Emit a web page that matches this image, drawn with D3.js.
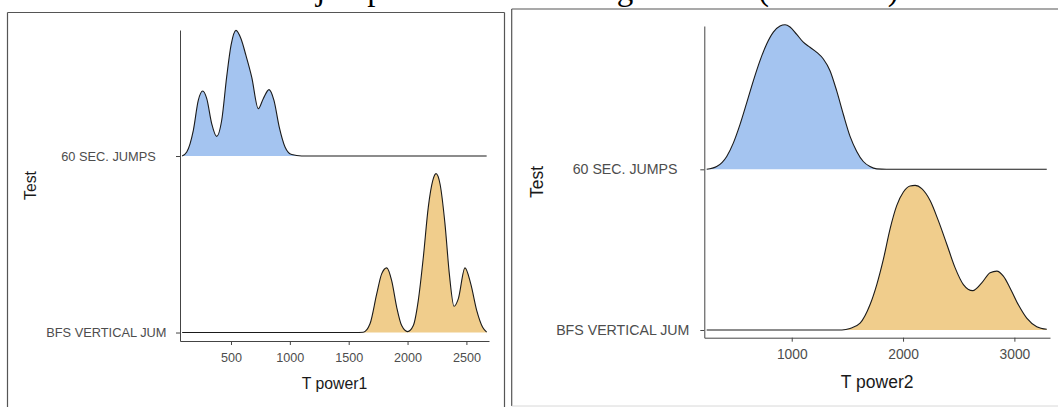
<!DOCTYPE html>
<html><head><meta charset="utf-8">
<script src="https://cdn.jsdelivr.net/npm/d3@7"></script>
<style>
html,body{margin:0;padding:0;background:#fff;}
svg{display:block;}
</style></head><body>
<svg id="chart" width="1058" height="407" font-family="'Liberation Sans', Arial, sans-serif"></svg>
<script>
// ---------------- data ----------------
const categories = ["60 SEC. JUMPS", "BFS VERTICAL JUM"];
const ticksPower1 = [500, 1000, 1500, 2000, 2500];
const ticksPower2 = [1000, 2000, 3000];
const axisTitles = ["T power1", "T power2"];
const yTitle = "Test";
const titleText = "Power of jumps in the two testing sessions (T1 vs T2)";
// [T power, relative density] (tallest ridge of each panel = 1)
const power1Jumps60 = [[85,0],[124,0.025],[180,0.162],[222,0.350],[260,0.409],[294,0.361],[336,0.204],[378,0.124],[421,0.225],[463,0.497],[500,0.696],[542,0.791],[585,0.738],[627,0.633],[676,0.497],[732,0.298],[774,0.361],[823,0.418],[865,0.350],[910,0.182],[959,0.057],[1016,0.009],[1100,0],[2672,0]];
const power1BFS = [[85,0],[1550,0],[1624,0.002],[1681,0.055],[1738,0.243],[1780,0.369],[1823,0.407],[1865,0.327],[1908,0.159],[1950,0.044],[2001,0.006],[2049,0.044],[2091,0.201],[2134,0.474],[2176,0.788],[2214,0.956],[2242,1.0],[2276,0.935],[2318,0.684],[2355,0.369],[2395,0.165],[2431,0.212],[2488,0.407],[2537,0.306],[2588,0.138],[2638,0.033],[2672,0.002]];
const power2Jumps60 = [[236,0],[326,0.019],[416,0.089],[475,0.181],[535,0.309],[596,0.461],[655,0.612],[715,0.752],[775,0.867],[835,0.949],[895,0.991],[940,1.0],[985,0.984],[1045,0.933],[1104,0.879],[1164,0.844],[1225,0.809],[1284,0.763],[1344,0.682],[1404,0.542],[1464,0.379],[1524,0.228],[1584,0.124],[1643,0.054],[1703,0.019],[1764,0.003],[1850,0],[3291,0]];
const power2BFS = [[236,0],[1451,0],[1524,0.01],[1614,0.047],[1703,0.174],[1764,0.314],[1823,0.488],[1883,0.698],[1943,0.860],[2003,0.954],[2063,0.996],[2108,1.0],[2168,0.977],[2243,0.895],[2317,0.756],[2393,0.593],[2467,0.431],[2542,0.314],[2626,0.272],[2707,0.326],[2782,0.396],[2842,0.407],[2901,0.372],[2961,0.291],[3036,0.174],[3111,0.082],[3201,0.023],[3291,0.005]];
const fillColors = ["#A4C4F0", "#F0CD8C"];

// ---------------- layout ----------------
const svg = d3.select("#chart");
const ridgeScale = 0.9;

const panels = [
  { frame:{x0:7.5,y0:12.5,x1:504.5,y1:430}, plot:{l:180,r:489,t:30,b:341},
    xDomain:[66.7,2692], yDomain:[0.952,2.714], ticks:ticksPower1,
    series:[power1Jumps60, power1BFS], xTitle:axisTitles[0],
    fs:{tick:12.6, ylab:12.8, title:15.8}, xPad:8.5, yPad:6,
    xTitleY:389, yTitleX:35.5, bottomLine:false },
  { frame:{x0:511.7,y0:9,x1:1070,y1:406}, plot:{l:704.3,r:1050,t:26,b:337.7},
    xDomain:[214.7,3320], yDomain:[0.952,2.892], ticks:ticksPower2,
    series:[power2Jumps60, power2BFS], xTitle:axisTitles[1],
    fs:{tick:13.8, ylab:14.2, title:17.5}, xPad:8, yPad:7,
    xTitleY:388, yTitleX:543, bottomLine:true }
];

// title (cut off at the top in the reference: only descenders show)
const title = svg.append("text")
  .style("font-family","'Liberation Serif','Times New Roman',serif")
  .attr("font-size",32).attr("x",0).attr("y",-0.4).attr("fill","#000")
  .text(titleText);
{
  const n = title.node();
  const jI = titleText.indexOf("j"), cI = titleText.indexOf(")");
  const span = n.getStartPositionOfChar(cI).x - n.getStartPositionOfChar(jI).x;
  title.attr("font-size", 32 * 572 / span);
  const jx = n.getStartPositionOfChar(jI).x;
  title.attr("x", 316 - jx);
}

panels.forEach(p => {
  const g = svg.append("g");
  const f = p.frame;
  g.append("line").attr("x1",f.x0).attr("x2",f.x0).attr("y1",f.y0).attr("y2",f.y1).attr("stroke","#555").attr("stroke-width",1.2);
  g.append("line").attr("x1",f.x0).attr("x2",f.x1).attr("y1",f.y0).attr("y2",f.y0).attr("stroke","#555").attr("stroke-width",1.2);
  if (f.x1 < 1058) g.append("line").attr("x1",f.x1).attr("x2",f.x1).attr("y1",f.y0).attr("y2",f.y1).attr("stroke","#555").attr("stroke-width",1.2);
  if (p.bottomLine) g.append("line").attr("x1",f.x0).attr("x2",f.x1).attr("y1",f.y1).attr("y2",f.y1).attr("stroke","#d8d8d8").attr("stroke-width",1);

  const x = d3.scaleLinear().domain(p.xDomain).range([p.plot.l, p.plot.r]);
  const y = d3.scaleLinear().domain(p.yDomain).range([p.plot.b, p.plot.t]);
  // category index: BFS = 1 (bottom), 60 SEC = 2 (top)
  const idx = c => categories.length - categories.indexOf(c);

  categories.forEach((c, ci) => {
    const base = idx(c);
    const data = p.series[ci];
    const area = d3.area().curve(d3.curveMonotoneX)
      .x(d => x(d[0])).y0(y(base)).y1(d => y(base + d[1]*ridgeScale));
    const line = d3.line().curve(d3.curveMonotoneX)
      .x(d => x(d[0])).y(d => y(base + d[1]*ridgeScale));
    g.append("path").datum(data).attr("d", area).attr("fill", fillColors[ci]).attr("stroke","none");
    g.append("path").datum(data).attr("d", line).attr("fill","none").attr("stroke","#1a1a1a").attr("stroke-width",1.1);
  });

  const xa = g.append("g").attr("transform",`translate(0,${p.plot.b})`)
    .call(d3.axisBottom(x).tickValues(p.ticks).tickFormat(d3.format("d"))
      .tickSize(4).tickSizeOuter(0).tickPadding(p.xPad));
  xa.attr("font-family", null);
  xa.select(".domain").attr("stroke","#444");
  xa.selectAll(".tick line").attr("stroke","#444");
  xa.selectAll(".tick text").attr("fill","#4d4d4d").attr("font-size",p.fs.tick);

  const ya = g.append("g").attr("transform",`translate(${p.plot.l},0)`)
    .call(d3.axisLeft(y).tickValues(categories.map(idx))
      .tickFormat(v => categories[categories.length - v].padEnd(17, "\u00a0"))
      .tickSize(4).tickSizeOuter(0).tickPadding(p.yPad));
  ya.attr("font-family", null);
  ya.select(".domain").attr("stroke","#444");
  ya.selectAll(".tick line").attr("stroke","#444");
  ya.selectAll(".tick text").attr("fill","#4d4d4d").attr("font-size",p.fs.ylab).style("white-space","pre");

  g.append("text").attr("x",(p.plot.l+p.plot.r)/2).attr("y",p.xTitleY)
    .attr("text-anchor","middle").attr("font-size",p.fs.title).attr("fill","#1a1a1a").text(p.xTitle);
  const cy = (p.plot.t+p.plot.b)/2;
  g.append("text").attr("transform",`translate(${p.yTitleX},${cy}) rotate(-90)`)
    .attr("text-anchor","middle").attr("font-size",p.fs.title).attr("fill","#1a1a1a").text(yTitle);
});
</script>
</body></html>
